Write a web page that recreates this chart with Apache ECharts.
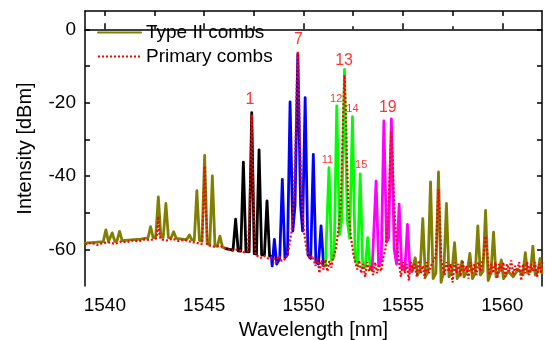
<!DOCTYPE html>
<html><head><meta charset="utf-8">
<script src="https://cdn.jsdelivr.net/npm/echarts@6/dist/echarts.min.js"></script>
<style>html,body{margin:0;padding:0;background:#fff}#c{width:545px;height:340px}</style>
</head><body><div id="c"></div>
<script>
// ---- data (wavelength nm, intensity dBm) ----
const typeIILeft = [[1539.0,-58.3],[1539.5,-58.1],[1539.92,-57.9],[1540.05,-54.7],[1540.18,-57.9],[1540.24,-57.8],[1540.37,-55.5],[1540.5,-57.8],[1540.61,-57.7],[1540.74,-55.1],[1540.87,-57.6],[1541.3,-57.4],[1541.8,-57.2],[1542.17,-56.9],[1542.3,-53.8],[1542.43,-56.8],[1542.56,-56.7],[1542.69,-45.7],[1542.82,-56.6],[1542.94,-56.7],[1543.07,-47.5],[1543.2,-56.8],[1543.33,-56.9],[1543.46,-55.2],[1543.59,-57.0],[1544.0,-57.3],[1544.12,-57.3],[1544.25,-56.1],[1544.38,-57.4],[1544.5,-57.5],[1544.63,-44.0],[1544.76,-57.6],[1544.89,-57.8],[1545.02,-34.4],[1545.15,-58.5],[1545.28,-58.7],[1545.41,-40.0],[1545.54,-59.0],[1545.66,-59.2],[1545.79,-56.4],[1545.92,-59.4],[1546.1,-59.8]];
const familyBlack = [[1546.1,-59.8],[1546.45,-60.2],[1546.58,-51.8],[1546.71,-60.4],[1546.84,-60.5],[1546.97,-36.2],[1547.1,-60.6],[1547.26,-60.7],[1547.39,-22.7],[1547.52,-61.2],[1547.63,-61.3],[1547.76,-32.9],[1547.89,-61.5],[1548.03,-61.6],[1548.16,-46.8],[1548.29,-61.8],[1548.38,-62.0]];
const familyBlue = [[1548.38,-62.0],[1548.42,-64.5],[1548.53,-57.3],[1548.65,-64.0],[1548.8,-62.5],[1548.93,-40.9],[1549.06,-62.3],[1549.19,-61.5],[1549.32,-19.8],[1549.46,-55],[1549.57,-48],[1549.71,-6.8],[1549.85,-48],[1549.95,-55],[1550.08,-18.6],[1550.22,-61.5],[1550.36,-62.5],[1550.49,-34.1],[1550.62,-63.5],[1550.75,-64],[1550.88,-53.6],[1551.01,-64.5],[1551.1,-64.5]];
const familyGreen = [[1551.1,-64.5],[1551.15,-64],[1551.28,-37.7],[1551.41,-63],[1551.54,-62],[1551.67,-20.9],[1551.81,-56],[1551.92,-52],[1552.06,-10.9],[1552.2,-52],[1552.32,-57],[1552.46,-23.8],[1552.6,-63],[1552.72,-64],[1552.85,-39.4],[1552.98,-65],[1553.1,-65],[1553.23,-56.8],[1553.36,-65.5],[1553.45,-65.5]];
const familyMagenta = [[1553.45,-65.5],[1553.52,-65],[1553.65,-41.4],[1553.78,-64.5],[1553.91,-63],[1554.04,-25.0],[1554.18,-58],[1554.28,-57],[1554.42,-24.4],[1554.56,-60],[1554.68,-64],[1554.81,-47.7],[1554.94,-65],[1555.1,-65.5],[1555.23,-53.2],[1555.36,-66],[1555.45,-66]];
const typeIIRight = [[1555.45,-66],[1555.5,-66.5],[1555.62,-62.3],[1555.74,-67],[1555.87,-65.5],[1556.0,-51.6],[1556.13,-67.5],[1556.26,-66],[1556.39,-41.6],[1556.52,-68],[1556.66,-66.5],[1556.79,-38.9],[1556.92,-69],[1557.06,-66],[1557.19,-47.5],[1557.32,-67.5],[1557.47,-66],[1557.6,-58.2],[1557.73,-68],[1557.86,-66.5],[1557.97,-63.2],[1558.08,-67.5],[1558.24,-66],[1558.37,-61.1],[1558.5,-68],[1558.64,-66.5],[1558.77,-53.6],[1558.9,-67],[1559.03,-66],[1559.16,-49.4],[1559.29,-68.5],[1559.43,-66.5],[1559.56,-55.3],[1559.69,-67.5],[1559.84,-66],[1559.95,-62.9],[1560.06,-68],[1560.3,-66],[1560.55,-67.5],[1560.8,-65.5],[1561.04,-67],[1561.16,-60.9],[1561.28,-66.5],[1561.42,-66],[1561.54,-59.1],[1561.66,-67],[1561.8,-66],[1561.9,-62.5],[1562.0,-66.5]];
const primaryCombs = [[1539.0,-58.6],[1539.3,-58.2],[1539.6,-58.8],[1539.9,-58.3],[1540.2,-58.1],[1540.5,-58.5],[1540.8,-57.9],[1541.1,-58.0],[1541.4,-57.6],[1541.7,-57.8],[1542.0,-57.3],[1542.3,-57.5],[1542.58,-57.0],[1542.64,-55],[1542.69,-51.0],[1542.74,-55.5],[1542.8,-57.2],[1543.1,-57.6],[1543.4,-57.1],[1543.7,-57.7],[1544.0,-57.4],[1544.3,-57.9],[1544.6,-58.2],[1544.88,-58.6],[1544.95,-50],[1545.02,-37.3],[1545.09,-50],[1545.16,-58.8],[1545.5,-59.3],[1545.8,-59.0],[1546.1,-59.8],[1546.4,-60.4],[1546.7,-60.0],[1547.0,-60.8],[1547.2,-60.5],[1547.28,-50],[1547.34,-36],[1547.39,-23.2],[1547.44,-36],[1547.5,-50],[1547.58,-61.5],[1547.85,-62.3],[1548.05,-61.8],[1548.25,-62.6],[1548.45,-62.0],[1548.6,-63.5],[1548.75,-61.8],[1548.9,-63.2],[1549.1,-62.5],[1549.25,-60],[1549.4,-55],[1549.52,-45],[1549.6,-30],[1549.66,-15],[1549.71,-6.0],[1549.76,-15],[1549.82,-30],[1549.9,-45],[1550.02,-55],[1550.15,-60],[1550.3,-62.5],[1550.45,-61.8],[1550.6,-64.5],[1550.7,-62.5],[1550.8,-66.5],[1550.9,-63],[1551.0,-65.5],[1551.1,-62.8],[1551.2,-66],[1551.3,-63.2],[1551.4,-65],[1551.5,-62],[1551.62,-60],[1551.75,-55],[1551.86,-49],[1551.94,-35],[1552.0,-22],[1552.06,-12.5],[1552.12,-22],[1552.18,-35],[1552.26,-49],[1552.37,-56],[1552.5,-61],[1552.6,-63.5],[1552.7,-65.5],[1552.8,-63],[1552.9,-66.5],[1553.0,-64],[1553.1,-67.5],[1553.2,-63.5],[1553.3,-66],[1553.4,-64.5],[1553.5,-67],[1553.6,-63.5],[1553.7,-66.5],[1553.8,-64],[1553.9,-66],[1554.0,-62.5],[1554.12,-60],[1554.22,-54],[1554.3,-45],[1554.36,-35],[1554.42,-27.7],[1554.48,-35],[1554.54,-45],[1554.62,-54],[1554.72,-60],[1554.82,-64],[1554.9,-67.5],[1555.0,-63.5],[1555.1,-66.5],[1555.2,-64],[1555.3,-68.5],[1555.4,-63.5],[1555.5,-66],[1555.6,-64],[1555.7,-67.5],[1555.8,-63],[1555.9,-66.5],[1556.0,-64.5],[1556.1,-68],[1556.2,-63.5],[1556.3,-66.5],[1556.45,-64],[1556.65,-62],[1556.71,-54],[1556.79,-43.6],[1556.87,-54],[1556.93,-63],[1557.1,-67],[1557.2,-63.5],[1557.3,-66],[1557.4,-64],[1557.5,-69],[1557.6,-63.5],[1557.7,-66.5],[1557.8,-64],[1557.9,-67.5],[1558.0,-63],[1558.1,-66],[1558.2,-64.5],[1558.3,-68],[1558.4,-63.5],[1558.5,-66.5],[1558.6,-64],[1558.7,-67],[1558.8,-63.5],[1558.9,-66],[1559.05,-62],[1559.11,-59],[1559.16,-56.4],[1559.21,-59],[1559.27,-62],[1559.35,-67],[1559.45,-64],[1559.55,-66.5],[1559.65,-63.5],[1559.75,-68],[1559.85,-64],[1559.95,-66],[1560.05,-63.5],[1560.15,-67.5],[1560.25,-64],[1560.35,-66],[1560.45,-63],[1560.55,-67],[1560.65,-64.5],[1560.75,-66],[1560.85,-63.5],[1560.95,-68.5],[1561.05,-64],[1561.15,-66.5],[1561.25,-63.5],[1561.35,-67],[1561.45,-64],[1561.55,-66],[1561.65,-63.5],[1561.75,-67.5],[1561.85,-64],[1561.95,-66.5],[1562.0,-63.5]];
const bigLabels = [[1547.3,-19.1,'1'],[1549.74,-2.7,'7'],[1552.04,-8.6,'13'],[1554.24,-21.4,'19']];
const smallLabels = [[1551.64,-18.9,'12'],[1552.46,-21.8,'14'],[1551.2,-35.5,'11'],[1552.9,-37.1,'15']];
const xMajorTicks = [1540,1545,1550,1555,1560];
const xMinorTicks = [1542.5,1547.5,1552.5,1557.5];
const xAllTicks = [1540,1542.5,1545,1547.5,1550,1552.5,1555,1557.5,1560];
const yLabelTicks = [-60,-40,-20,0];
const yAllTicks = [-60,-50,-40,-30,-20,-10,0];
const xRange = [1539, 1562];
const yRange = [-70, 5];

const FONT = 'Liberation Sans, Arial, sans-serif';
const chart = echarts.init(document.getElementById('c'), null, {renderer:'canvas'});
const axisLine = {show:true, lineStyle:{color:'#000', width:1.5}};
function lineSeries(name, data, color, extra){
  return Object.assign({type:'line', name, data, symbol:'none', showSymbol:false, animation:false,
    lineStyle:{color, width:2.8, join:'round', cap:'round'}, itemStyle:{color}, z:2}, extra||{});
}
function labelSeries(data, size){
  return {type:'scatter', data, symbolSize:0, silent:true, z:5,
    label:{show:true, position:'inside', color:'#f00', fontFamily:FONT, fontSize:size,
      formatter:p=>p.data[2]}};
}
chart.setOption({
  animation:false,
  backgroundColor:'#fff',
  grid:{left:85, right:3, top:11, bottom:54, containLabel:false, outerBoundsMode:'none'},
  legend:{data:['Type II combs','Primary combs'], orient:'vertical', left:97, top:23, padding:0,
    itemWidth:43, itemHeight:14, itemGap:5,
    itemStyle:{opacity:0},
    textStyle:{fontFamily:FONT, fontSize:19, color:'#000'}},
  xAxis:[
    {type:'value', min:xRange[0], max:xRange[1], position:'bottom',
     name:'Wavelength [nm]', nameLocation:'middle', nameGap:34,
     nameTextStyle:{fontFamily:FONT, fontSize:20, color:'#000'},
     axisLine, splitLine:{show:false},
     axisTick:{inside:true, length:6, customValues:xMajorTicks, lineStyle:{color:'#000', width:1.5}},
     axisLabel:{customValues:xMajorTicks, formatter:v=>String(v), fontFamily:FONT, fontSize:19, color:'#000', margin:10}},
    {type:'value', min:xRange[0], max:xRange[1], position:'bottom',
     axisLine:{show:false}, splitLine:{show:false},
     axisTick:{inside:true, length:3, customValues:xMinorTicks, lineStyle:{color:'#000', width:1.5}},
     axisLabel:{show:false}},
    {type:'value', min:xRange[0], max:xRange[1], position:'top',
     axisLine, splitLine:{show:false},
     axisTick:{inside:true, length:5, customValues:xAllTicks, lineStyle:{color:'#000', width:1.5}},
     axisLabel:{show:false}}
  ],
  yAxis:[
    {type:'value', min:yRange[0], max:yRange[1], position:'left',
     name:'Intensity [dBm]', nameLocation:'middle', nameGap:50,
     nameTextStyle:{fontFamily:FONT, fontSize:20, color:'#000'},
     axisLine, splitLine:{show:false},
     axisTick:{inside:true, length:5, customValues:yAllTicks, lineStyle:{color:'#000', width:1.5}},
     axisLabel:{customValues:yLabelTicks, formatter:v=>String(v), fontFamily:FONT, fontSize:19, color:'#000', margin:9}},
    {type:'value', min:yRange[0], max:yRange[1], position:'right',
     axisLine, splitLine:{show:false},
     axisTick:{inside:true, length:5, customValues:yAllTicks, lineStyle:{color:'#000', width:1.5}},
     axisLabel:{show:false}}
  ],
  series:[
    lineSeries('Type II combs', typeIILeft, '#808000'),
    lineSeries('Type II combs', typeIIRight, '#808000'),
    lineSeries('black', familyBlack, '#000000'),
    lineSeries('blue', familyBlue, '#0000ff'),
    lineSeries('green', familyGreen, '#00ff00'),
    lineSeries('magenta', familyMagenta, '#ff00ff'),
    lineSeries('Primary combs', primaryCombs, '#ff0000', {lineStyle:{color:'#ff0000', width:2.2, type:[2,2]}, z:3}),
    labelSeries(bigLabels, 16),
    labelSeries(smallLabels, 11)
  ]
});
</script></body></html>
